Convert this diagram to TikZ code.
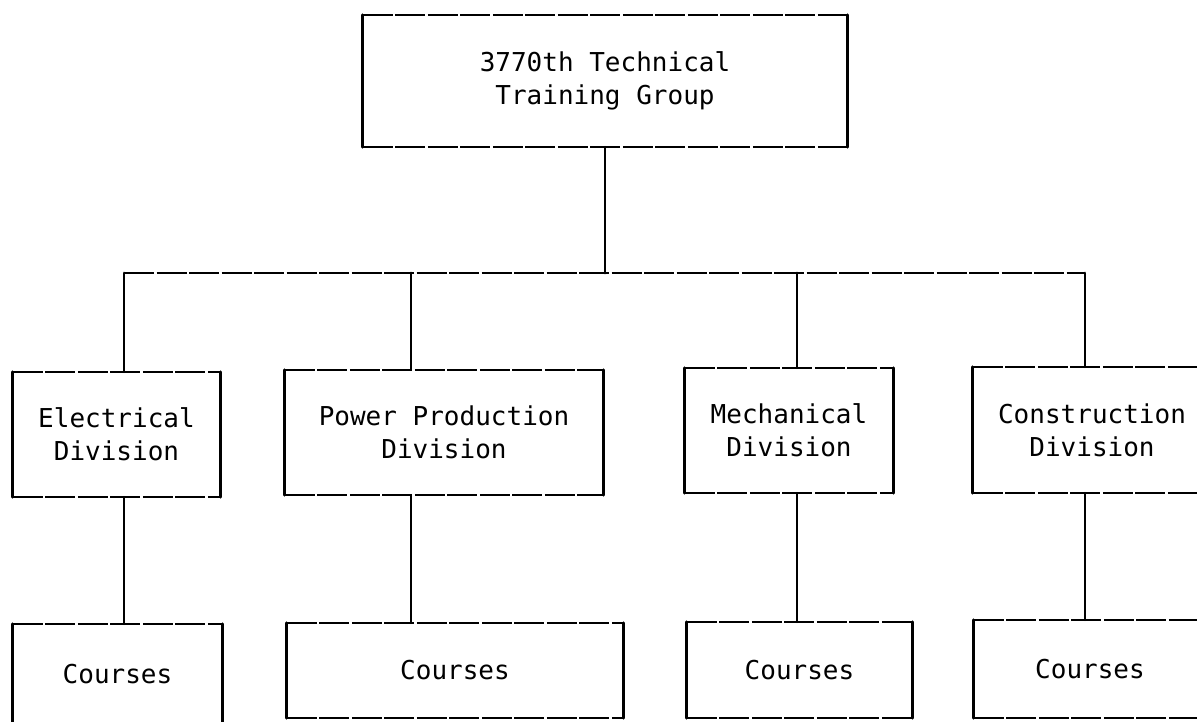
\documentclass[tikz,border=0pt]{standalone}
\usepackage{fontspec}
\setmonofont{DejaVu Sans Mono}
\usetikzlibrary{positioning}
\newcommand{\orgfont}{\fontsize{26}{33}\selectfont\ttfamily}
\tikzset{
  orgbox/.style={rectangle,inner sep=0pt,align=center,font=\orgfont},
  vline/.style={line width=2.8pt,line cap=round},
  hline/.style={line width=2.3pt,dash pattern=on 30pt off 2.5pt},
}

\begin{document}
\begin{tikzpicture}[x=1pt,y=-1pt]

  \useasboundingbox (0,0) rectangle (1197,721);
  \clip (0,0) rectangle (1197,721);

  % group at the top
  \node[orgbox,minimum width=484pt,minimum height=132pt]
    (group) at (605,81){3770th Technical\\Training Group};

  % divisions
  \node[orgbox,minimum width=207pt,minimum height=125pt]
    (elec) at (116.5,434.5){Electrical\\Division};
  \node[orgbox,minimum width=318pt,minimum height=125pt]
    (power) at (444,432.5){Power Production\\Division};
  \node[orgbox,minimum width=208pt,minimum height=125pt]
    (mech) at (789,430.5){Mechanical\\Division};
  \node[orgbox,minimum width=238pt,minimum height=126pt]
    (cons) at (1092,430){Construction\\Division};

  % courses
  \node[orgbox,minimum width=209pt,minimum height=100pt]
    (elecC) at (117.5,674){Courses};
  \node[orgbox,minimum width=336pt,minimum height=95pt]
    (powerC) at (455,670.5){Courses};
  \node[orgbox,minimum width=225pt,minimum height=96pt]
    (mechC) at (799.5,670){Courses};
  \node[orgbox,minimum width=232pt,minimum height=98pt]
    (consC) at (1090,669){Courses};

  % box outlines: solid sides, broken top and bottom
  \foreach \n in {group,elec,power,mech,cons,elecC,powerC,mechC,consC}{
    \draw[vline] (\n.north west) -- (\n.south west)
                 (\n.north east) -- (\n.south east);
    \draw[hline] (\n.north west) -- (\n.north east)
                 (\n.south west) -- (\n.south east);
  }

  % connectors
  \coordinate (colE) at (124,273);
  \coordinate (colP) at (411,273);
  \coordinate (colM) at (797,273);
  \coordinate (colC) at (1085,273);

  \draw[vline] (group.south) -- (group.south |- colE);
  \draw[hline] (colE) -- (colC);
  \foreach \d/\c/\k in {elec/elecC/colE,power/powerC/colP,
                        mech/mechC/colM,cons/consC/colC}{
    \draw[vline] (\k) -- (\k |- \d.north);
    \draw[vline] (\k |- \d.south) -- (\k |- \c.north);
  }

\end{tikzpicture}
\end{document}
